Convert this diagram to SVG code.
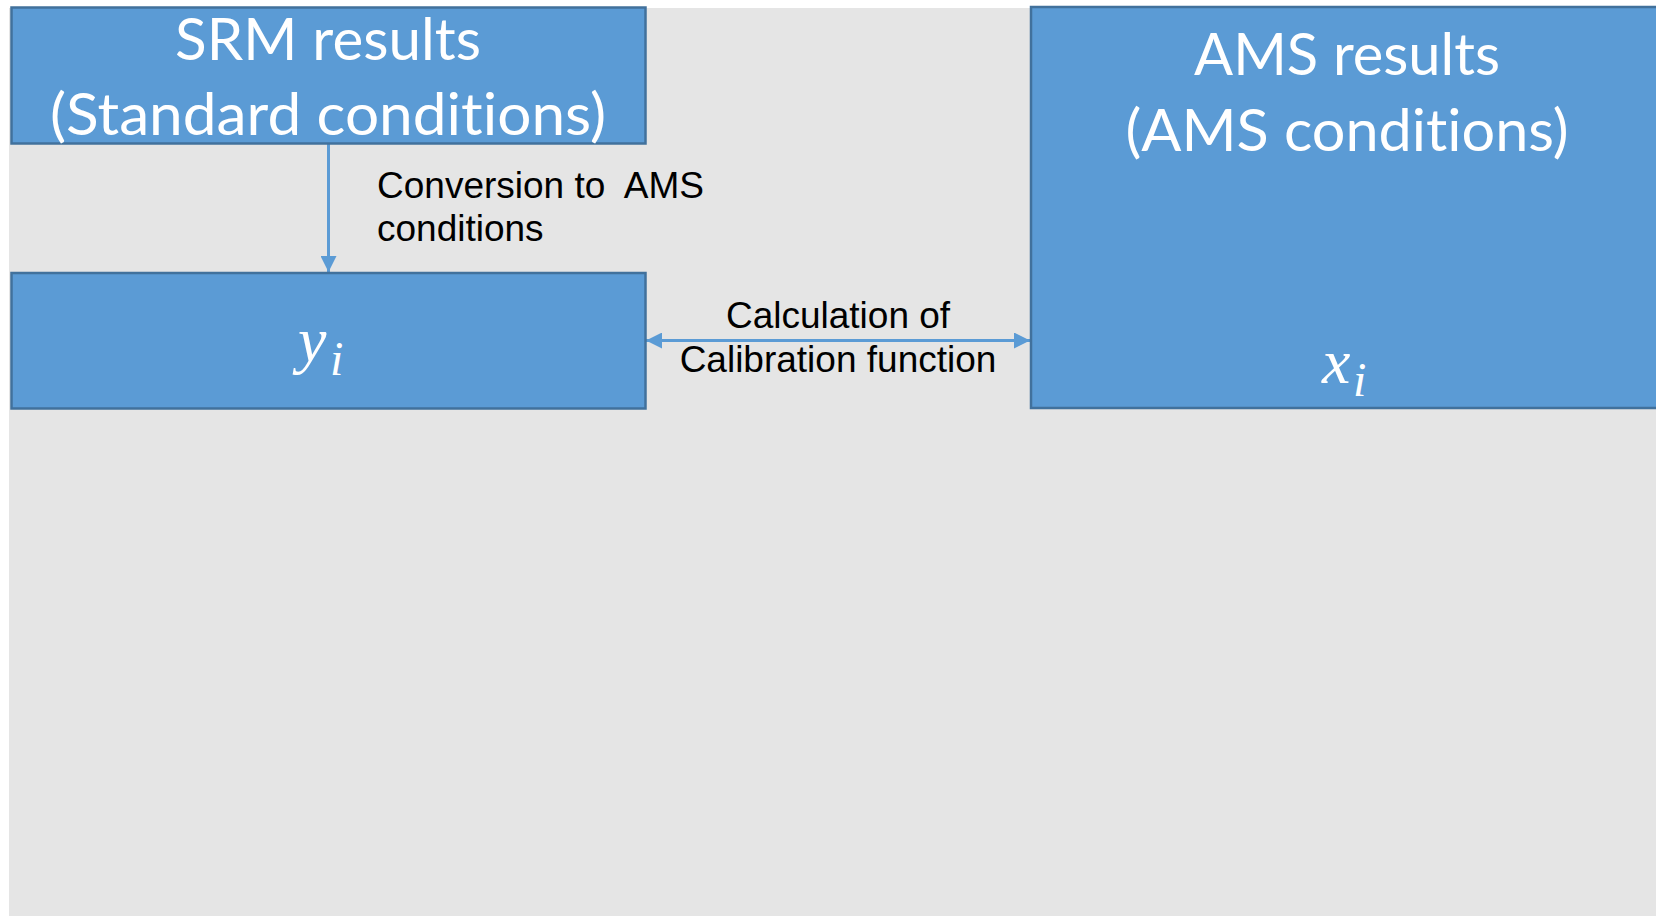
<svg xmlns="http://www.w3.org/2000/svg" width="1656" height="916" viewBox="0 0 1656 916">
<style>
.box{fill:#5b9bd5;stroke:#41719c;stroke-width:2.5}
.title{font-family:Lato,"Open Sans",sans-serif;fill:#ffffff;font-size:58px;text-anchor:middle;font-variant-ligatures:none;font-feature-settings:"liga" 0}
.lbl{font-family:"Liberation Sans",Arial,sans-serif;fill:#000000;font-size:37px}
.math{font-family:"Liberation Serif","DejaVu Serif",serif;font-style:italic;fill:#ffffff}
.conn{stroke:#5b9bd5;stroke-width:3;fill:none}
</style>
<defs>
<marker id="ah" viewBox="0 0 16 16" refX="16" refY="8" markerWidth="16" markerHeight="16" markerUnits="userSpaceOnUse" orient="auto-start-reverse">
<path d="M0,0 L16,8 L0,16 Z" fill="#5b9bd5"/>
</marker>
</defs>
<rect x="0" y="0" width="1656" height="916" fill="#ffffff"/>
<rect x="9" y="8" width="1647" height="908" fill="#e5e5e5"/>
<g id="connectors">
<line class="conn" x1="328.5" y1="144" x2="328.5" y2="272" marker-end="url(#ah)"/>
<line class="conn" x1="646" y1="340.5" x2="1030" y2="340.5" marker-start="url(#ah)" marker-end="url(#ah)"/>
</g>
<g id="srm">
<rect class="box" x="11.5" y="7.5" width="634" height="136"/>
<text class="title" x="328" y="60" textLength="306" lengthAdjust="spacingAndGlyphs">SRM results</text>
<text class="title" x="328" y="135" textLength="556" lengthAdjust="spacingAndGlyphs">(Standard conditions)</text>
</g>
<g id="yi">
<rect class="box" x="11.5" y="273" width="634" height="135.5"/>
<text class="math" x="298" y="361" font-size="64">y</text>
<text class="math" x="330" y="375" font-size="48">i</text>
</g>
<g id="ams">
<rect class="box" x="1031" y="7" width="640" height="401"/>
<text class="title" x="1347" y="75" textLength="306" lengthAdjust="spacingAndGlyphs">AMS results</text>
<text class="title" x="1347" y="151" textLength="443" lengthAdjust="spacingAndGlyphs">(AMS conditions)</text>
<text class="math" x="1322" y="383" font-size="64">x</text>
<text class="math" x="1353" y="396" font-size="48">i</text>
</g>
<g id="labels">
<text class="lbl" x="377" y="198" xml:space="preserve">Conversion to  AMS</text>
<text class="lbl" x="377" y="241">conditions</text>
<text class="lbl" x="838" y="328" text-anchor="middle">Calculation of</text>
<text class="lbl" x="838" y="372" text-anchor="middle">Calibration function</text>
</g>
</svg>
